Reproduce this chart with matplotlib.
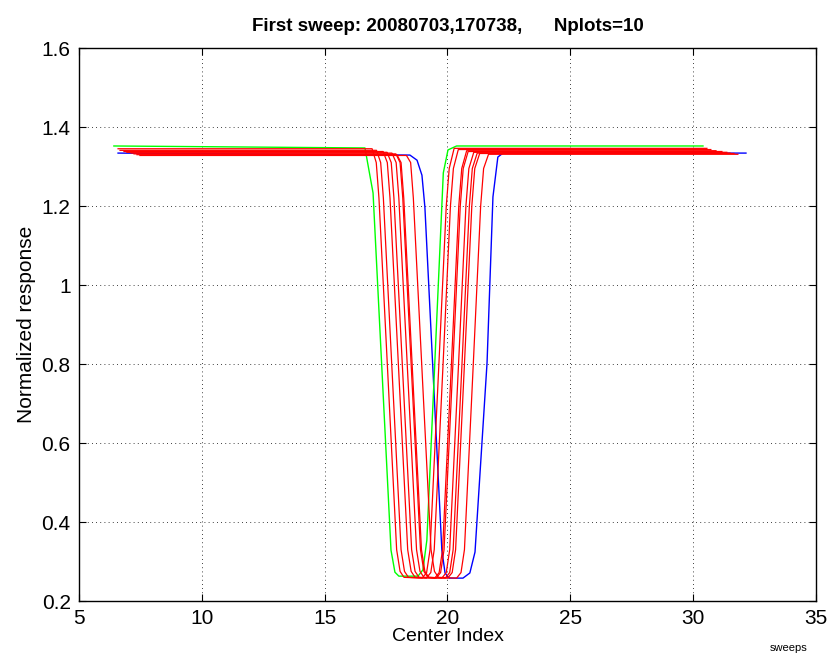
import matplotlib
matplotlib.use("Agg")
import matplotlib.pyplot as plt
from matplotlib.ticker import FuncFormatter

plt.rcParams['font.family'] = ['Liberation Sans', 'DejaVu Sans']

# first sweep (green) and last sweep (blue), vertices
green_x = [6.42, 16.64, 16.97, 17.70, 17.86, 18.02, 18.80, 19.00, 19.16, 19.83, 20.02, 20.37, 30.40]
green_y = [1.352, 1.347, 1.233, 0.329, 0.273, 0.263, 0.263, 0.279, 0.354, 1.284, 1.342, 1.352, 1.352]

blue_x = [6.59, 18.47, 18.76, 18.96, 19.08, 19.77, 19.90, 20.06, 20.63, 20.91, 21.12,
          21.61, 21.85, 22.05, 22.26, 32.15]
blue_y = [1.334, 1.329, 1.316, 1.278, 1.197, 0.329, 0.271, 0.258, 0.258, 0.271, 0.324,
          0.803, 1.223, 1.324, 1.334, 1.334]

# intermediate sweeps (red): notch edges at half depth, plateau levels, extent
red_left_edge = [17.55, 17.73, 18.00, 18.16, 18.36, 18.52, 18.56, 18.95]
red_right_edge = [19.65, 19.82, 20.16, 20.22, 20.45, 20.59, 20.69, 21.05]
red_start = [6.59, 6.67, 6.83, 6.95, 7.12, 7.24, 7.36, 7.48]
red_end = [30.56, 30.72, 30.93, 31.17, 31.37, 31.50, 31.66, 31.82]
red_level_left = [1.345, 1.341, 1.338, 1.336, 1.334, 1.332, 1.330, 1.328]
red_level_right = [1.346, 1.343, 1.340, 1.338, 1.336, 1.334, 1.333, 1.331]

# shape of the notch walls, relative to the edge positions
wall_left_dx = [-0.62, -0.45, -0.34, 0.0, 0.38, 0.52, 0.68]
wall_left_y = [None, 1.31, 1.22, 0.80, 0.33, 0.275, 0.26]
wall_right_dx = [-0.68, -0.50, -0.36, 0.0, 0.30, 0.42, 0.62]
wall_right_y = [0.258, 0.272, 0.33, 0.80, 1.20, 1.295, None]

fig = plt.figure(figsize=(8.28, 6.56), dpi=100)
ax = fig.add_axes([0.0954, 0.0838, 0.8901, 0.843])

ax.plot(blue_x, blue_y, color='#0000ff', lw=1.0)
ax.plot(green_x, green_y, color='#00ff00', lw=1.0)

for i in range(len(red_left_edge)):
    L, R = red_left_edge[i], red_right_edge[i]
    xs = [red_start[i]]
    ys = [red_level_left[i]]
    for dx, y in zip(wall_left_dx, wall_left_y):
        xs.append(L + dx)
        ys.append(red_level_left[i] if y is None else y)
    for dx, y in zip(wall_right_dx, wall_right_y):
        xs.append(R + dx)
        ys.append(red_level_right[i] if y is None else y)
    xs.append(red_end[i])
    ys.append(red_level_right[i])
    ax.plot(xs, ys, color='#ff0000', lw=0.9)

ax.set_xlim(5, 35)
ax.set_ylim(0.2, 1.6)
ax.set_xticks(range(5, 36, 5))
ax.set_yticks([0.2, 0.4, 0.6, 0.8, 1.0, 1.2, 1.4, 1.6])
ax.yaxis.set_major_formatter(FuncFormatter(lambda v, p: '%g' % v))
ax.tick_params(direction='in', length=5, width=0.8, labelsize=15,
               top=True, right=True, pad=6)
ax.grid(True, linestyle=(0, (1, 4)), color='black', linewidth=0.6)
for s in ax.spines.values():
    s.set_linewidth(1.0)

ax.set_xlabel('Center Index', fontsize=14, labelpad=0)
ax.set_ylabel('Normalized response', fontsize=15, labelpad=4)
ax.set_title('First sweep: 20080703,170738,      Nplots=10', fontsize=13.5,
             fontweight='bold', pad=12)
fig.text(0.952, 0.004, 'sweeps', fontsize=8, ha='center', va='bottom')

fig.savefig('out.png', dpi=100)
